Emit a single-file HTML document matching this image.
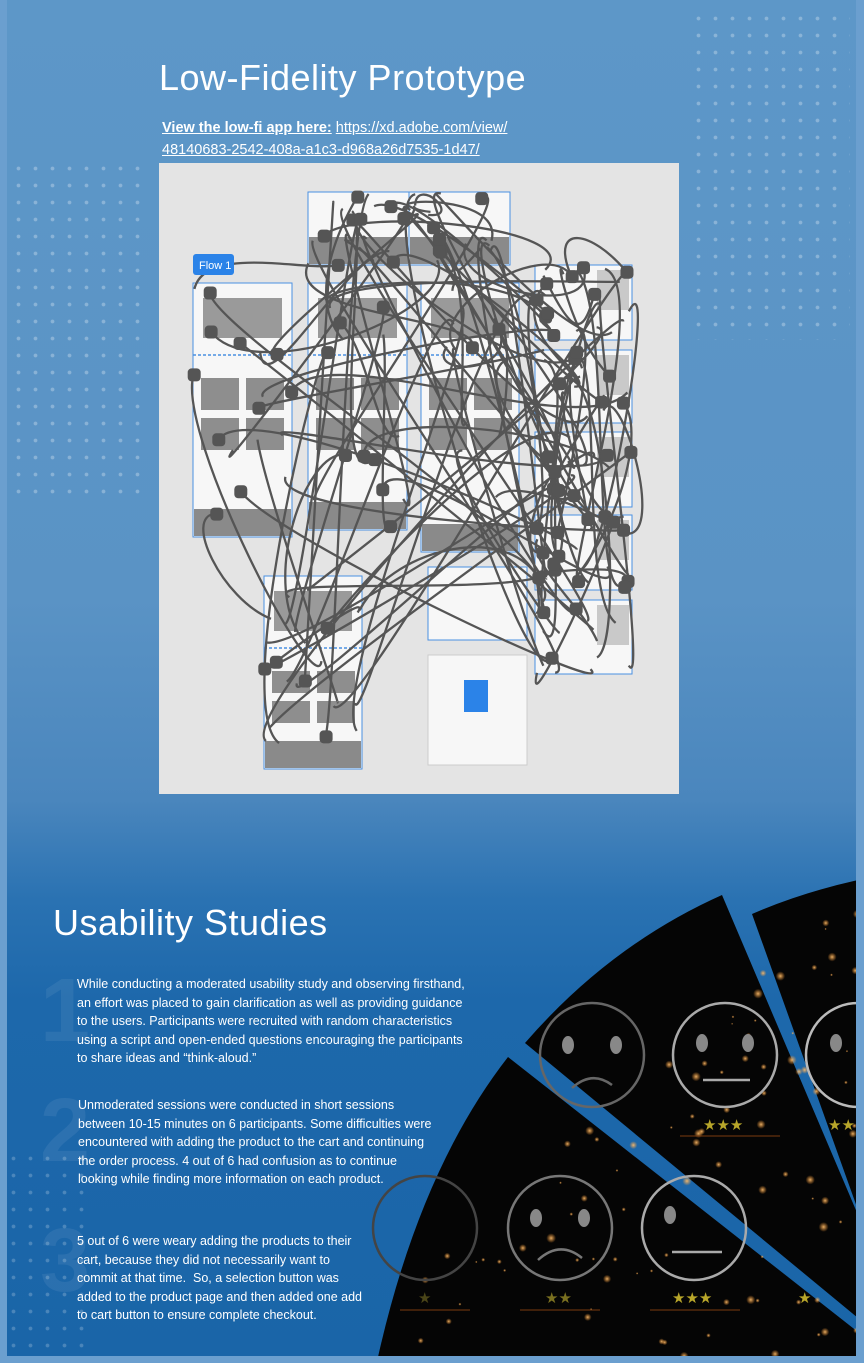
<!DOCTYPE html>
<html><head><meta charset="utf-8"><style>
html,body{margin:0;padding:0}
body{width:864px;height:1363px;position:relative;overflow:hidden;font-family:"Liberation Sans",sans-serif;
background:linear-gradient(180deg,#5d97c8 0px,#5a93c5 600px,#4a86bd 800px,#2a72b2 900px,#1d68ab 1000px,#1a65a8 1363px);}
.frame{position:absolute;left:0;top:0;width:864px;height:1363px;box-sizing:border-box;border:7px solid #6b9fcf;border-top:none;border-right:8px solid #6b9fcf;pointer-events:none;z-index:5}
.dots{position:absolute;background-image:radial-gradient(circle,rgba(255,255,255,.35) 1.6px,transparent 2.2px);background-size:17px 17px}
h1{position:absolute;margin:0;color:#fff;font-weight:normal;font-size:36px;letter-spacing:.5px}
.link{position:absolute;left:162px;top:117px;color:#fff;font-size:14.5px;line-height:22px}
.link span{text-decoration:underline}
.p{position:absolute;color:#fff;font-size:12.5px;line-height:18.5px;white-space:nowrap}
.num{position:absolute;color:rgba(255,255,255,.07);font-size:90px;font-weight:bold}
</style></head><body>
<div class="dots" style="left:10px;top:160px;width:140px;height:340px;opacity:.8"></div>
<div class="dots" style="left:690px;top:10px;width:160px;height:330px;opacity:.8"></div>
<div class="dots" style="left:5px;top:1150px;width:90px;height:210px;opacity:.6"></div>
<h1 style="left:159px;top:57px">Low-Fidelity Prototype</h1>
<div class="link"><b><span>View the low-fi app here:</span></b> <span>https://xd.adobe.com/view/</span><br><span>48140683-2542-408a-a1c3-d968a26d7535-1d47/</span></div>

<svg style="position:absolute;left:159px;top:163px" width="520" height="631" viewBox="159 163 520 631" id="proto">
<rect x="159" y="163" width="520" height="631" fill="#e4e4e4"/>
<g id="boards"></g>
<g id="wires" fill="none" stroke="#555" stroke-width="2.3"></g>
<g id="nodes" fill="#555"></g>
<rect x="193" y="254" width="41" height="21" rx="3" fill="#2b83e8"/>
<text x="199" y="269" fill="#fff" font-size="11" font-family="Liberation Sans">Flow 1</text>
</svg>

<h1 style="left:53px;top:902px">Usability Studies</h1>
<div class="num" style="left:40px;top:960px">1</div>
<div class="num" style="left:40px;top:1080px">2</div>
<div class="num" style="left:40px;top:1210px">3</div>
<div class="p" style="left:77px;top:975px">While conducting a moderated usability study and observing firsthand,<br>an effort was placed to gain clarification as well as providing guidance<br>to the users. Participants were recruited with random characteristics<br>using a script and open-ended questions encouraging the participants<br>to share ideas and “think-aloud.”</div>
<div class="p" style="left:78px;top:1096px">Unmoderated sessions were conducted in short sessions<br>between 10-15 minutes on 6 participants. Some difficulties were<br>encountered with adding the product to the cart and continuing<br>the order process. 4 out of 6 had confusion as to continue<br>looking while finding more information on each product.</div>
<div class="p" style="left:77px;top:1232px">5 out of 6 were weary adding the products to their<br>cart, because they did not necessarily want to<br>commit at that time.&nbsp; So, a selection button was<br>added to the product page and then added one add<br>to cart button to ensure complete checkout.</div>

<svg style="position:absolute;left:0;top:0" width="864" height="1363" id="wedges">
<defs><radialGradient id="gl"><stop offset="0" stop-color="#ffc070" stop-opacity=".9"/><stop offset="1" stop-color="#ff9a30" stop-opacity="0"/></radialGradient></defs>
<path d="M752 914 Q800 893 858 880 L858 1210 Z" fill="#050505"/>
<path d="M525 1043 Q610 945 722 895 L858 1215 L858 1318 Z" fill="#050505"/>
<path d="M378 1357 Q420 1170 508 1057 L858 1332 L858 1357 Z" fill="#050505"/>
<g id="glow"></g>
<g fill="none" stroke="#9a9a9a" stroke-width="2.5">
<circle cx="592" cy="1055" r="52" stroke="#666"/><path d="M572 1088 Q592 1070 612 1085" stroke="#666"/>
<circle cx="725" cy="1055" r="52" stroke="#aaa"/><line x1="703" y1="1080" x2="750" y2="1080" stroke="#aaa"/>
<circle cx="858" cy="1055" r="52" stroke="#bbb"/>
<circle cx="425" cy="1228" r="52" stroke="#444"/>
<circle cx="560" cy="1228" r="52" stroke="#777"/><path d="M538 1260 Q560 1240 582 1258" stroke="#777"/>
<circle cx="694" cy="1228" r="52" stroke="#aaa"/><line x1="672" y1="1252" x2="722" y2="1252" stroke="#aaa"/>
</g>
<g fill="#888"><ellipse cx="568" cy="1045" rx="6" ry="9"/><ellipse cx="616" cy="1045" rx="6" ry="9"/><ellipse cx="702" cy="1043" rx="6" ry="9"/><ellipse cx="748" cy="1043" rx="6" ry="9"/><ellipse cx="836" cy="1043" rx="6" ry="9"/><ellipse cx="536" cy="1218" rx="6" ry="9"/><ellipse cx="584" cy="1218" rx="6" ry="9"/><ellipse cx="670" cy="1215" rx="6" ry="9"/></g>
<g fill="#b8a62a" font-size="15" font-family="DejaVu Sans">
<text x="703" y="1130">★★★</text><text x="828" y="1130">★★</text>
<text x="418" y="1303" fill="#4a4518">★</text><text x="545" y="1303" fill="#7a7020">★★</text><text x="672" y="1303">★★★</text><text x="798" y="1303">★</text>
</g>
<g stroke="#7a3c10" stroke-width="1"><line x1="680" y1="1136" x2="780" y2="1136"/><line x1="400" y1="1310" x2="470" y2="1310"/><line x1="520" y1="1310" x2="600" y2="1310"/><line x1="650" y1="1310" x2="740" y2="1310"/></g>
</svg>
<div class="frame"></div>

<script>
var ns="http://www.w3.org/2000/svg";
function el(p,t,a){var e=document.createElementNS(ns,t);for(var k in a)e.setAttribute(k,a[k]);p.appendChild(e);return e}
var B=document.getElementById("boards"),W=document.getElementById("wires"),N=document.getElementById("nodes");
var boards=[[308,192,101,73],[409,192,101,73],[193,283,99,254],[308,283,99,247],[421,283,98,269],[535,265,97,75],[535,350,97,73],[535,432,97,75],[535,515,97,75],[535,600,97,74],[264,576,98,193],[428,567,99,73],[428,655,99,110]];
var s=7;function r(){s=(s*9301+49297)%233280;return s/233280}
boards.forEach(function(b,i){
 el(B,"rect",{x:b[0],y:b[1],width:b[2],height:b[3],fill:"#f7f7f7",stroke:i==12?"#ccc":"#4a90e2","stroke-width":1});
 if(b[3]>150){
  el(B,"rect",{x:b[0]+10,y:b[1]+15,width:b[2]-20,height:40,fill:"#9a9a9a"});
  el(B,"line",{x1:b[0],y1:b[1]+72,x2:b[0]+b[2],y2:b[1]+72,stroke:"#4a90e2","stroke-width":1.5,"stroke-dasharray":"3,2"});
  var h=b[3]>200?32:22;
  for(var j=0;j<4;j++)el(B,"rect",{x:b[0]+8+(j%2)*45,y:b[1]+95+Math.floor(j/2)*(h+8),width:38,height:h,fill:"#8e8e8e"});
  el(B,"rect",{x:b[0]+1,y:b[1]+b[3]-28,width:b[2]-2,height:27,fill:"#8a8a8a"});
 } else if(i<2){el(B,"rect",{x:b[0]+1,y:b[1]+45,width:b[2]-2,height:27,fill:"#8a8a8a"});}
 else if(i<10){el(B,"rect",{x:b[0]+62,y:b[1]+5,width:32,height:40,fill:"#c9c9c9"});}
});
el(B,"rect",{x:464,y:680,width:24,height:32,fill:"#2b83e8"});
function cl(v,a,b){return Math.max(a,Math.min(b,v))}
for(var i=0;i<110;i++){
 var b1=boards[Math.floor(r()*11)],b2=boards[Math.floor(r()*11)];
 var x1=b1[0]+r()*b1[2],y1=b1[1]+r()*b1[3],x2=b2[0]+r()*b2[2],y2=b2[1]+r()*b2[3];
 el(W,"path",{d:"M"+x1+" "+y1+" C"+cl(x1+(r()-.5)*100,175,665)+" "+cl(y1+(r()-.5)*120,175,780)+" "+cl(x2+(r()-.5)*100,175,665)+" "+cl(y2+(r()-.5)*120,175,780)+" "+x2+" "+y2});
 if(r()<.7)el(N,"rect",{x:x1-6,y:y1-6,width:13,height:13,rx:4});
}
var G=document.getElementById("glow");
for(var i=0;i<160;i++){var x=390+r()*470,y=900+r()*460;
 if(y<1357&&x<858&&(y-880)>-(x-860)*0.9){var rr=1+r()*4;el(G,"circle",{cx:x,cy:y,r:rr,fill:"url(#gl)"});}}
</script>
</body></html>
